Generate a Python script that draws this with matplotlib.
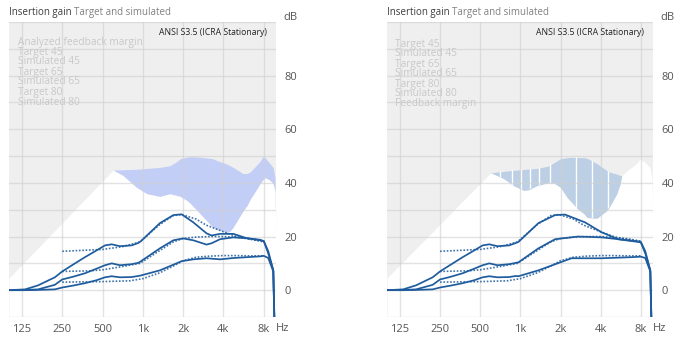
import numpy as np
import matplotlib
matplotlib.use("Agg")
import matplotlib.pyplot as plt

plt.rcParams['font.family'] = ['Open Sans', 'DejaVu Sans']

# --- white "usable gain" area + feedback margin, left panel
fb_left_f = [600, 710, 900, 1070, 1340, 1590, 1800, 1900, 2130, 2250, 2670, 3340, 3580, 4250,
             4470, 4710, 5590, 6000, 6310, 7250, 7500, 7900, 8160, 8900, 9400, 9700, 9870]
fb_left_lo = [44.8, 42.8, 38.3, 36, 35, 36, 35.3, 35, 33.5, 32.5, 28.6, 23.4, 22.6, 21.6,
              22, 23.4, 29.5, 31.6, 33.8, 38.5, 39.8, 41.2, 42, 41, 39.8, 37, 21]
fb_left_hi = [44.8, 44.9, 45.1, 45.4, 45.8, 46.4, 48, 49, 49.6, 49.8, 49.6, 49, 48.3, 47,
              46.4, 45.8, 43.5, 43.5, 44, 47.2, 48, 49.8, 49.5, 47.2, 45.7, 42, 21]

# --- right panel
fb_right_f = [600, 750, 890, 1060, 1160, 1330, 1600, 1780, 2000, 2240, 2400, 2660, 3000,
              3160, 3750, 4450, 4710, 5290, 5590, 5760]
fb_right_lo = [43.8, 41.6, 39, 37.2, 37.5, 39, 40, 40, 38.3, 34.6, 33, 30.5, 28.5,
               27.1, 26.8, 29.7, 31.5, 36, 39.5, 42.8]
fb_right_hi = [43.8, 44.3, 44.7, 45, 45.2, 45.4, 46.2, 47.5, 49, 49.4, 49.5, 49.5, 49.4,
               49.2, 47.2, 44.6, 44, 43.3, 42.8, 42.8]
right_tail_f = [6460, 7450, 7900, 8600, 9380, 9700, 9870]
right_tail_g = [45, 47.2, 49, 47.6, 45.7, 42, 20]
right_stripes = [702, 868, 1014, 1190, 1389, 1680, 2620, 3440, 4500]

ramp_f = [100]
ramp_g = [4.5]

# --- targets (same in both panels)
t80_f = [250, 500, 700, 950, 1340, 1688, 1945, 2500, 2990, 4000, 5130, 6300, 7490, 8000]
t80_g = [14.5, 15.2, 16.2, 18, 24.5, 27.8, 28.2, 26.5, 24.2, 21.8, 19.8, 19, 18.3, 18]
t65_f = [250, 400, 500, 700, 950, 1340, 1688, 2000, 2500, 3150, 4000, 5000, 6300, 8000]
t65_g = [7, 7.2, 7.6, 8.8, 10, 14.8, 18, 19.3, 19.8, 20, 20, 19.7, 19.2, 18.3]
t45_f = [250, 500, 800, 1000, 1340, 1688, 2000, 2500, 3150, 4000, 5000, 6300, 8000]
t45_g = [3, 3.2, 3.5, 4.3, 6.5, 9, 11, 12.3, 12.7, 12.9, 12.9, 12.8, 12.8]

# --- simulated, common low-frequency part
low_f = [100, 132, 165, 220, 250, 300, 369, 450, 521, 585, 674, 824, 925]
s80_low = [0, 0.3, 1.8, 4.8, 7, 9.5, 12.3, 14.8, 16.7, 17.1, 16.4, 16.7, 17.6]
s65_low = [0, 0.1, 0.3, 2, 4, 5, 6.3, 8, 9.3, 10, 9.3, 9.7, 10.2]
s45_low = [0, 0, 0.1, 0.3, 1, 1.7, 2.6, 3.7, 4.8, 5.2, 4.8, 4.9, 5.3]

# left panel, above 950 Hz
s80L_f = [968, 1340, 1688, 1945, 2380, 2990, 3260, 3770, 4740, 5960, 7490, 8000, 8640, 9420, 9600]
s80L_g = [18.3, 25, 28, 28.3, 25.3, 21.2, 20.4, 21, 21, 19.4, 18.6, 18.3, 13.7, 7.4, -11]
s65L_f = [968, 1340, 1688, 2000, 2380, 2990, 3260, 3770, 4740, 5960, 7490, 8000, 8640, 9420, 9600]
s65L_g = [10.8, 15.6, 18.6, 19.3, 18.6, 17, 17.5, 19, 19.7, 19.4, 18.8, 18.3, 14.5, 7.4, -11]
s45L_f = [968, 1340, 1688, 1945, 2380, 2990, 3770, 4740, 5960, 7490, 8000, 8640, 9420, 9600]
s45L_g = [5.5, 7.4, 9.5, 10.8, 11.5, 11.9, 11.5, 12, 12.3, 12.6, 12.8, 12, 7, -11]

# right panel, above 950 Hz
s80R_f = [968, 1365, 1820, 2160, 3050, 4060, 5400, 7620, 8000, 8640, 9420, 9600]
s80R_g = [18, 25, 28, 28.2, 25.3, 21.6, 19, 18, 17.8, 13.7, 7.4, -11]
s65R_f = [968, 1365, 1820, 2710, 4060, 7620, 8000, 8640, 9420, 9600]
s65R_g = [10.4, 15.6, 19, 20, 19.7, 18.2, 18, 14.5, 7.4, -11]
s45R_f = [968, 1365, 2420, 4060, 6800, 8000, 8640, 9420, 9600]
s45R_g = [5.2, 7.4, 11.9, 11.9, 12.3, 12.5, 12, 7, -11]

xticks = [125, 250, 500, 1000, 2000, 4000, 8000]
xlabels = ['125', '250', '500', '1k', '2k', '4k', '8k']
yticks = [0, 20, 40, 60, 80]

legend_left = ['Analyzed feedback margin', 'Target 45', 'Simulated 45', 'Target 65',
               'Simulated 65', 'Target 80', 'Simulated 80']
legend_right = ['Target 45', 'Simulated 45', 'Target 65', 'Simulated 65', 'Target 80',
                'Simulated 80', 'Feedback margin']

LINE = '#1f5c9e'
W, H = 681, 347

fig = plt.figure(figsize=(W / 100, H / 100), dpi=100)
fig.patch.set_facecolor('white')


def setup(ax):
    ax.set_facecolor('#efefef')
    ax.set_xscale('log')
    ax.set_xlim(100, 9870)
    ax.set_ylim(-10, 100)
    for s in ax.spines.values():
        s.set_visible(False)
    ax.set_xticks(xticks)
    ax.set_xticklabels(xlabels)
    ax.xaxis.set_minor_locator(matplotlib.ticker.NullLocator())
    ax.set_yticks(np.arange(-10, 101, 10), minor=True)
    ax.set_yticks(yticks)
    ax.yaxis.tick_right()
    ax.tick_params(which='both', length=0, labelsize=8, labelcolor='#555555')
    ax.tick_params(axis='y', pad=6)
    ax.tick_params(axis='x', pad=5)
    ax.set_axisbelow('line')
    ax.grid(True, which='both', color='#cfcfcf', alpha=0.6, lw=1)
    ax.annotate('dB', xy=(1, 1), xycoords='axes fraction', xytext=(5, 3),
                textcoords='offset points', va='center', ha='left', fontsize=8, color='#555555')
    ax.annotate('Hz', xy=(1, 0), xycoords='axes fraction', xytext=(0, -8),
                textcoords='offset points', va='center', ha='left', fontsize=8, color='#555555')
    ax.text(0.965, 0.965, 'ANSI S3.5 (ICRA Stationary)', transform=ax.transAxes,
            ha='right', va='center', fontsize=6.2, color='#222222')


def curves(ax, sims):
    for f, g in [(t45_f, t45_g), (t65_f, t65_g), (t80_f, t80_g)]:
        ax.plot(f, g, color=LINE, lw=1.2, ls=(0, (1, 1)), alpha=0.85, zorder=3)
    for f, g in sims:
        ax.plot(f, g, color=LINE, lw=1.25, zorder=4)


def legend(items, x0, y0):
    for i, t in enumerate(items):
        fig.text(x0 / W, 1 - (y0 + 10 * i) / H, t, fontsize=7.3, color='#c8c8c8',
                 va='center', ha='left')


def title(ax, x0):
    t1 = fig.text(x0 / W, 1 - 13 / H, 'Insertion gain', fontsize=7, color='#3c3c3c',
                  va='center', ha='left')
    ax.annotate('Target and simulated', xy=(1, 0.5), xycoords=t1, xytext=(2, 0),
                textcoords='offset points', va='center', ha='left',
                fontsize=7, color='#808080', annotation_clip=False)


# ---------------- left panel
axL = fig.add_axes([9 / W, 30 / H, 267 / W, 295 / H])
setup(axL)
axL.fill_between(ramp_f + fb_left_f, -10, ramp_g + fb_left_lo, color='white', lw=0, zorder=1)
axL.fill_between(fb_left_f, fb_left_lo, fb_left_hi, color='#c3cef6', lw=0, zorder=1.2)
curves(axL, [(low_f + s45L_f, s45_low + s45L_g),
             (low_f + s65L_f, s65_low + s65L_g),
             (low_f + s80L_f, s80_low + s80L_g)])
legend(legend_left, 18, 42)
title(axL, 9)

# ---------------- right panel
axR = fig.add_axes([387 / W, 30 / H, 266 / W, 295 / H])
setup(axR)
axR.fill_between(ramp_f + fb_right_f + right_tail_f, -10, ramp_g + fb_right_lo + right_tail_g,
                 color='white', lw=0, zorder=1)
band = axR.fill_between(fb_right_f, fb_right_lo, fb_right_hi, color='#bccfe4', lw=0, zorder=1.2)
st = axR.vlines(right_stripes, -10, 100, colors='white', lw=1, zorder=1.3)
st.set_clip_path(band.get_paths()[0], axR.transData)
curves(axR, [(low_f + s45R_f, s45_low + s45R_g),
             (low_f + s65R_f, s65_low + s65R_g),
             (low_f + s80R_f, s80_low + s80R_g)])
legend(legend_right, 395, 44)
title(axR, 387)

fig.savefig('out.png', dpi=100)
